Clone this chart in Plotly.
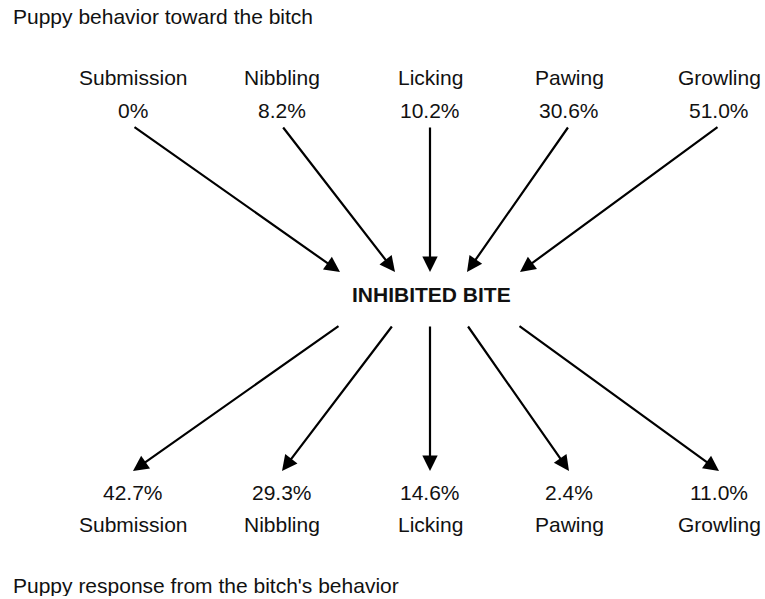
import plotly.graph_objects as go

categories = ["Submission", "Nibbling", "Licking", "Pawing", "Growling"]
toward_bitch_pct = ["0%", "8.2%", "10.2%", "30.6%", "51.0%"]
response_pct = ["42.7%", "29.3%", "14.6%", "2.4%", "11.0%"]
center_label = "INHIBITED BITE"
top_title = "Puppy behavior toward the bitch"
bottom_title = "Puppy response from the bitch's behavior"

# layout constants (page pixel coordinates)
W, H = 765, 596
col_x = [133, 282, 430, 569, 719]
hub_top_x = [340, 395, 430, 467, 520]
hub_bot_x = [340, 393, 430, 467, 518]
FONT = "Liberation Sans, Arial, Helvetica, sans-serif"
FS = 21

fig = go.Figure()
fig.add_trace(go.Scatter(x=[0, W], y=[0, H], mode="markers",
                         marker=dict(opacity=0), hoverinfo="skip", showlegend=False))

ann = []
def txt(x, y, t, bold=False, xanchor="center"):
    ann.append(dict(x=x, y=y, xref="x", yref="y", text=(f"<b>{t}</b>" if bold else t),
                    showarrow=False, xanchor=xanchor, yanchor="middle",
                    font=dict(family=FONT, size=FS, color="#111111")))

def arrow(x0, y0, x1, y1):
    ann.append(dict(x=x1, y=y1, ax=x0, ay=y0, xref="x", yref="y", axref="x", ayref="y",
                    text="", showarrow=True, arrowhead=2, arrowsize=1.4, arrowwidth=2.2,
                    arrowcolor="#000000", standoff=0, startstandoff=0))

txt(11, 16, top_title, xanchor="left")
txt(11, 585, bottom_title, xanchor="left")
txt(431, 294, center_label, bold=True)

for i, c in enumerate(categories):
    txt(col_x[i], 77, c)
    txt(col_x[i], 110, toward_bitch_pct[i])
    arrow(col_x[i], 126, hub_top_x[i], 272)
    arrow(hub_bot_x[i], 325, col_x[i], 471)
    txt(col_x[i], 492, response_pct[i])
    txt(col_x[i], 524, c)

fig.update_layout(
    width=W, height=H, margin=dict(l=0, r=0, t=0, b=0),
    paper_bgcolor="white", plot_bgcolor="white",
    xaxis=dict(range=[0, W], visible=False, fixedrange=True),
    yaxis=dict(range=[H, 0], visible=False, fixedrange=True),
    annotations=ann, showlegend=False,
)
fig.write_html("out.html", config={"displayModeBar": False},
               post_script="document.body.style.margin='0px';document.body.style.overflow='hidden';")
